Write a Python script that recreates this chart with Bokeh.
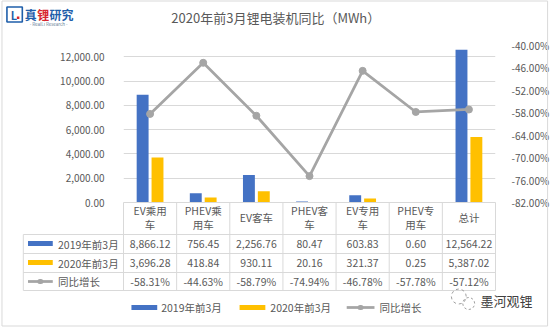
import math
from bokeh.plotting import figure
from bokeh.models import (Range1d, LinearAxis, FixedTicker, NumeralTickFormatter, ColumnDataSource)
from bokeh.transform import dodge
from bokeh.core.properties import value
from bokeh.embed import file_html
from bokeh.resources import INLINE

# ---------------- data ----------------
categories = ["EV乘用车", "PHEV乘用车", "EV客车", "PHEV客车", "EV专用车", "PHEV专用车", "总计"]
header_line1 = ["EV乘用", "PHEV乘", "EV客车", "PHEV客", "EV专用", "PHEV专", "总计"]
header_line2 = ["车", "用车", "", "车", "车", "用车", ""]
mwh_2019 = [8866.12, 756.45, 2256.76, 80.47, 603.83, 0.60, 12564.22]
mwh_2020 = [3696.28, 418.84, 930.11, 20.16, 321.37, 0.25, 5387.02]
yoy_pct = [-58.31, -44.63, -58.79, -74.94, -46.78, -57.78, -57.12]
series_names = ["2019年前3月", "2020年前3月", "同比增长"]
left_ticks = [0, 2000, 4000, 6000, 8000, 10000, 12000]
right_ticks = [-40, -46, -52, -58, -64, -70, -76, -82]
title_text = "2020年前3月锂电装机同比（MWh）"
logo_chars = ["真", "锂", "研究"]
logo_sub = "- RealLi Research -"
watermark = "墨河观锂"

# ---------------- style ----------------
BLUE = "#4472C4"
YELLOW = "#FFC000"
GRAY = "#A5A5A5"
GRID = "#D9D9D9"
TXT = "#595959"
FONT = value("Noto Sans CJK SC")

W, H = 552, 327
ML, MR, MT, MB = 123, 54, 45, 125
FW, FH = W - ML - MR, H - MT - MB  # frame size in px
NC = len(categories)

p = figure(width=W, height=H, output_backend="svg", toolbar_location=None,
           x_range=Range1d(0, NC),
           y_range=Range1d(0, FH / 24.3 * 2000),
           min_border_left=ML, min_border_right=MR, min_border_top=MT, min_border_bottom=MB,
           outline_line_color=None, background_fill_color="white", border_fill_color="white")
p.extra_y_ranges = {"pct": Range1d(right_ticks[-1] / 100, right_ticks[0] / 100),
                    "py": Range1d(0, FH)}
p.extra_x_ranges = {"px": Range1d(0, FW)}

p.xaxis.visible = False
p.xgrid.visible = False

ly = p.yaxis[0]
ly.ticker = FixedTicker(ticks=left_ticks)
ly.formatter = NumeralTickFormatter(format="0,0.00")
ly.axis_line_color = None
ly.major_tick_line_color = None
ly.minor_tick_line_color = None
ly.major_label_standoff = 13
ly.major_label_text_font = "Noto Sans CJK SC"
ly.major_label_text_font_size = "10px"
ly.major_label_text_color = TXT

ry = LinearAxis(y_range_name="pct", ticker=FixedTicker(ticks=[t / 100 for t in right_ticks]),
                formatter=NumeralTickFormatter(format="0.00%"),
                axis_line_color=None, major_tick_line_color=None, minor_tick_line_color=None,
                major_label_standoff=10, major_label_text_font="Noto Sans CJK SC",
                major_label_text_font_size="10px", major_label_text_color=TXT)
p.add_layout(ry, "right")

p.ygrid.ticker = FixedTicker(ticks=left_ticks)
p.ygrid.grid_line_color = GRID

xpos = [i + 0.5 for i in range(NC)]  # category centres on the x scale
src = ColumnDataSource(dict(x=xpos, cat=categories, v19=mwh_2019, v20=mwh_2020,
                            yoy=[v / 100 for v in yoy_pct]))
p.vbar(x=dodge("x", -0.14), top="v19", width=0.224, source=src,
       fill_color=BLUE, line_color=None)
p.vbar(x=dodge("x", 0.14), top="v20", width=0.224, source=src,
       fill_color=YELLOW, line_color=None)
p.line("x", "yoy", y_range_name="pct", source=src, line_color=GRAY, line_width=2.75)
p.scatter("x", "yoy", y_range_name="pct", source=src, size=7, fill_color=GRAY, line_color=GRAY)

# ------------- overlay helpers (px coordinates relative to frame bottom-left) -------------
OV = dict(x_range_name="px", y_range_name="py", level="overlay")
def X(px): return px - ML
def Y(py): return (MT + FH) - py

# outer border
p.quad(left=[X(0.5)], right=[X(550.5)], top=[Y(0.5)], bottom=[Y(325.5)],
       fill_color=None, line_color=GRID, line_width=1, **OV)

# title
p.text(x=[X(276.5)], y=[Y(17)], text=[title_text], text_align="center", text_baseline="middle",
       text_font=FONT, text_font_size="13px", text_color=TXT, **OV)

# logo
p.quad(left=[X(5.5)], right=[X(21)], top=[Y(6.5)], bottom=[Y(21.5)], fill_color=None,
       line_color="#1F5FAA", line_width=1.6, **OV)
p.text(x=[X(12.5)], y=[Y(14.5)], text=["L"], text_align="center", text_baseline="middle",
       text_font=FONT, text_font_size="11px", text_font_style="bold", text_color="#1F5FAA", **OV)
p.quad(left=[X(15.5)], right=[X(18)], top=[Y(16)], bottom=[Y(18.5)], fill_color="#D7262E",
       line_color=None, **OV)
p.text(x=[X(23.5), X(36), X(48.5)], y=[Y(13.5)] * 3, text=logo_chars, text_baseline="middle",
       text_font=FONT, text_font_size="12px", text_font_style="bold",
       text_color=["#1F5FAA", "#D7262E", "#1F5FAA"], **OV)
p.text(x=[X(47.5)], y=[Y(23.8)], text=[logo_sub], text_align="center", text_baseline="middle",
       text_font=FONT, text_font_size="4.5px", text_color="#6A7F9A", **OV)

# ---------------- data table ----------------
col_w = FW / NC
row_y = [234, 253, 272, 290]
p.segment(x0=[X(ML)], y0=[Y(202)], x1=[X(ML + FW)], y1=[Y(202)], line_color=GRID, line_width=1, **OV)
p.segment(x0=[X(22)] * 4, y0=[Y(r) for r in row_y], x1=[X(ML + FW)] * 4, y1=[Y(r) for r in row_y],
          line_color=GRID, line_width=1, **OV)
p.segment(x0=[k * col_w for k in range(NC + 1)], y0=[Y(202)] * (NC + 1),
          x1=[k * col_w for k in range(NC + 1)], y1=[Y(290)] * (NC + 1),
          line_color=GRID, line_width=1, **OV)
p.segment(x0=[X(22)], y0=[Y(234)], x1=[X(22)], y1=[Y(290)], line_color=GRID, line_width=1, **OV)

hdr1_y = [Y(210) if l2 else Y(217) for l2 in header_line2]
p.text(x=xpos, y=hdr1_y, text=header_line1, y_range_name="py", level="overlay",
       text_align="center", text_baseline="middle", text_font=FONT, text_font_size="10.5px",
       text_color=TXT)
p.text(x=xpos, y=[Y(223.5)] * NC, text=header_line2, y_range_name="py", level="overlay",
       text_align="center", text_baseline="middle", text_font=FONT, text_font_size="10.5px",
       text_color=TXT)

row_texts = [[f"{v:,.2f}" for v in mwh_2019], [f"{v:,.2f}" for v in mwh_2020],
             [f"{v:.2f}%" for v in yoy_pct]]
row_cy = [243.5, 262.5, 281]
for texts, cy in zip(row_texts, row_cy):
    p.text(x=xpos, y=[Y(cy)] * NC, text=texts, y_range_name="py", level="overlay",
           text_align="center", text_baseline="middle", text_font=FONT, text_font_size="10.5px",
           text_color=TXT)

# row labels with keys
p.quad(left=[X(26.7)] * 2, right=[X(51.7)] * 2, top=[Y(240.5), Y(259.5)],
       bottom=[Y(245.5), Y(264.5)], fill_color=[BLUE, YELLOW], line_color=None, **OV)
p.segment(x0=[X(26.7)], y0=[Y(281)], x1=[X(51.7)], y1=[Y(281)], line_color=GRAY, line_width=2.75, **OV)
p.text(x=[X(57)] * 3, y=[Y(c) for c in row_cy], text=series_names, text_baseline="middle",
       text_font=FONT, text_font_size="10.5px", text_color=TXT, **OV)

# ---------------- bottom legend ----------------
LY = 307
p.quad(left=[X(131), X(240)], right=[X(157), X(266)], top=[Y(LY - 2.5)] * 2,
       bottom=[Y(LY + 2.5)] * 2, fill_color=[BLUE, YELLOW], line_color=None, **OV)
p.segment(x0=[X(348)], y0=[Y(LY)], x1=[X(376)], y1=[Y(LY)], line_color=GRAY, line_width=2.75, **OV)
p.text(x=[X(161), X(271), X(381)], y=[Y(LY)] * 3, text=series_names, text_baseline="middle",
       text_font=FONT, text_font_size="10.5px", text_color=TXT, **OV)

# marker dots on the line keys (short round-capped strokes)
p.segment(x0=[X(38.7), X(361.5)], y0=[Y(281), Y(LY)], x1=[X(39.7), X(362.5)], y1=[Y(281), Y(LY)],
          line_color=GRAY, line_width=5, line_cap="round", **OV)

# watermark icon (dashed rings drawn as alternating short strokes) + text
rx0, ry0, rx1, ry1 = [], [], [], []
for cx, cy, r in [(461, 296, 7.5), (471, 303, 6)]:
    n = 16
    for k in range(0, n, 2):
        a0, a1 = 2 * math.pi * k / n, 2 * math.pi * (k + 1) / n
        rx0.append(X(cx) + r * math.cos(a0)); ry0.append(Y(cy) + r * math.sin(a0))
        rx1.append(X(cx) + r * math.cos(a1)); ry1.append(Y(cy) + r * math.sin(a1))
p.segment(x0=rx0, y0=ry0, x1=rx1, y1=ry1, line_color="#A0A0A0", line_width=1, **OV)
p.text(x=[X(483)], y=[Y(300)], text=[watermark], text_baseline="middle",
       text_font=FONT, text_font_size="13px", text_color="#404040", **OV)

open("out.html", "w").write(file_html(p, INLINE))
